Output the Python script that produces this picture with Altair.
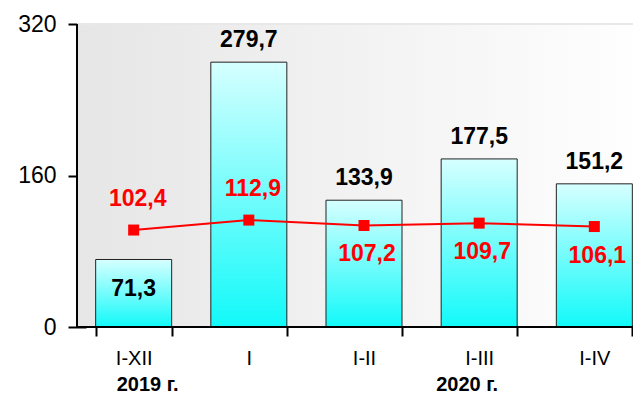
import altair as alt
import pandas as pd

categories = ["I-XII", "I", "I-II", "I-III", "I-IV"]
volume = [71.3, 279.7, 133.9, 177.5, 151.2]
index_pct = [102.4, 112.9, 107.2, 109.7, 106.1]
y_ticks = [0, 160, 320]
year_labels = ["2019 г.", "2020 г."]
year_anchor = ["I-XII", "I-III"]

df = pd.DataFrame({"cat": categories, "vol": volume, "idx": index_pct})
df["vol_lbl"] = [f"{v:.1f}".replace(".", ",") for v in volume]
df["idx_lbl"] = [f"{v:.1f}".replace(".", ",") for v in index_pct]

W, H = 556, 303
FONT = "Liberation Sans"

xscale = alt.Scale(domain=categories, range=[0, 574], paddingInner=0.34, paddingOuter=0.162)
yscale = alt.Scale(domain=[0, 320], nice=False, zero=True)

X = alt.X("cat:N", scale=xscale, axis=alt.Axis(
    title=None, offset=-9, domain=False, tickSize=18, tickBand="extent",
    tickColor="black", tickWidth=2, labelAngle=0, labelFont=FONT,
    labelFontSize=20, labelColor="black", labelPadding=12))
yaxis = alt.Axis(
    title=None, offset=-9, domain=False, tickSize=18, values=y_ticks,
    grid=False, tickColor="black", tickWidth=2, labelFont=FONT,
    labelFontSize=23, labelColor="black", labelPadding=12)
Y = alt.Y("vol:Q", scale=yscale, axis=yaxis)
Yi = alt.Y("idx:Q", scale=yscale, axis=yaxis)

base = alt.Chart(df)
one = alt.Chart(pd.DataFrame({"a": [0]}))

bg = one.mark_rect(
    fill=alt.Gradient(gradient="linear", x1=0, x2=1, y1=0, y2=0,
                      stops=[alt.GradientStop(offset=0, color="#e6e6e6"),
                             alt.GradientStop(offset=1, color="#ffffff")])
).encode(x=alt.value(0), x2=alt.value(576), y=alt.value(0), y2=alt.value(H))

top_line = one.mark_rule(color="#e8e8e8", strokeWidth=2).encode(
    x=alt.value(0), x2=alt.value(576), y=alt.value(0))

bars = base.mark_bar(
    stroke="#222222", strokeWidth=1,
    fill=alt.Gradient(gradient="linear", x1=0, x2=0, y1=0, y2=1,
                      stops=[alt.GradientStop(offset=0, color="#d6ffff"),
                             alt.GradientStop(offset=1, color="#12f9f9")])
).encode(x=X, y=Y)

ydom = one.mark_rule(color="black", strokeWidth=2).encode(
    x=alt.value(0), y=alt.value(0), y2=alt.value(H))
xdom = one.mark_rule(color="black", strokeWidth=2).encode(
    x=alt.value(0), x2=alt.value(576), y=alt.value(H))

line = base.mark_line(color="#ff0000", strokeWidth=2).encode(x=X, y=Yi)
pts = base.mark_square(size=121, color="#ff0000", opacity=1).encode(x=X, y=Yi)

txt = dict(font=FONT, fontSize=23, fontWeight="bold", baseline="middle", align="center")

vol_above = base.transform_filter(
    alt.FieldOneOfPredicate(field="cat", oneOf=categories[1:])
).mark_text(dy=-22, color="black", **txt).encode(x=X, y=Y, text="vol_lbl:N")
vol_inside = base.transform_filter(
    alt.FieldOneOfPredicate(field="cat", oneOf=categories[:1])
).mark_text(dy=30, color="black", **txt).encode(x=X, y=Y, text="vol_lbl:N")

idx_above = base.transform_filter(
    alt.FieldOneOfPredicate(field="cat", oneOf=categories[:2])
).mark_text(dy=-31, dx=4, color="#ff0000", **txt).encode(x=X, y=Yi, text="idx_lbl:N")
idx_below = base.transform_filter(
    alt.FieldOneOfPredicate(field="cat", oneOf=categories[2:])
).mark_text(dy=29, dx=3, color="#ff0000", **txt).encode(x=X, y=Yi, text="idx_lbl:N")

years = []
for lbl, anc, dx in zip(year_labels, year_anchor, [14, -12]):
    years.append(
        alt.Chart(pd.DataFrame({"cat": [anc], "lbl": [lbl]}))
        .mark_text(dx=dx, font=FONT, fontSize=20, fontWeight="bold",
                   baseline="alphabetic", align="center", color="black")
        .encode(x=X, y=alt.value(H + 64), text="lbl:N")
    )

chart = alt.layer(
    bg, top_line, bars, line, pts, ydom, xdom,
    vol_above, vol_inside, idx_above, idx_below, *years
).properties(
    width=W, height=H,
    autosize=alt.AutoSizeParams(type="none"),
    padding={"left": 69, "top": 16, "right": 0, "bottom": 69},
).configure_view(stroke=None)

chart.save("out.html", embed_options={"renderer": "svg", "actions": False})
